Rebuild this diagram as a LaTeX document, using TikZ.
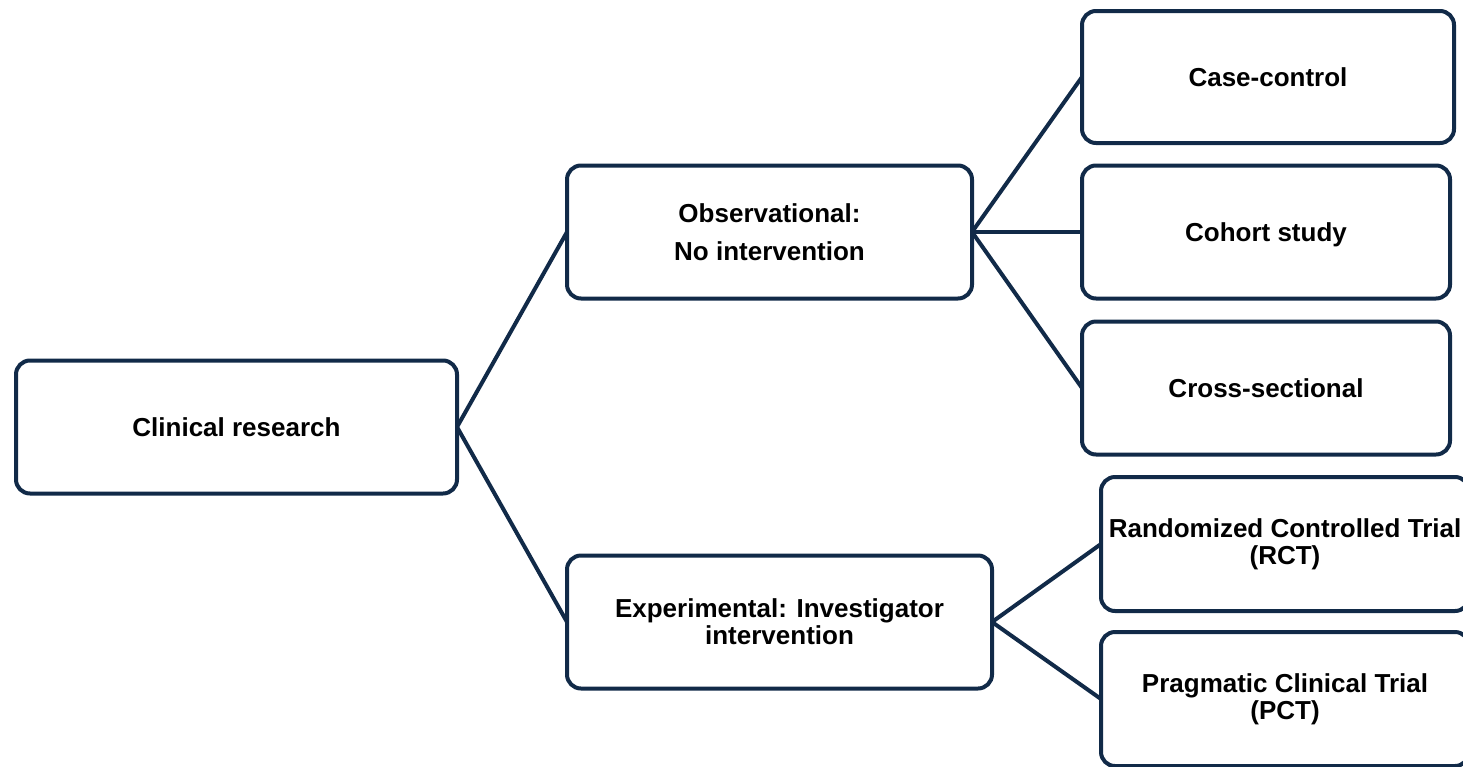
\documentclass[tikz,border=0pt]{standalone}
\usepackage{fontspec}
\setmainfont{Liberation Sans}
\begin{document}
\begin{tikzpicture}[x=1pt,y=-1pt,
  box/.style={draw=navy, line width=4pt, rounded corners=14pt, fill=white,
    inner sep=0pt, outer sep=0pt, align=center,
    font=\fontsize{26}{27}\selectfont\bfseries, text=black},
  link/.style={draw=navy, line width=4pt}]
\definecolor{navy}{HTML}{112A48}
\useasboundingbox (0,0) rectangle (1463,766);
\clip (0,0) rectangle (1463,766);
\node[box, minimum width=441pt, minimum height=133pt] (cr) at (236.5,427) {Clinical research};
\node[box, minimum width=405pt, minimum height=133pt] (obs) at (769.5,232) {Observational:\\[11pt]No intervention};
\node[box, minimum width=425pt, minimum height=133pt] (exp) at (779.5,622) {Experimental: Investigator\\intervention};
\node[box, minimum width=372pt, minimum height=132pt] (cc) at (1268,77) {Case-control};
\node[box, minimum width=368pt, minimum height=133pt, text depth=0pt] (co) at (1266,232) {Cohort study};
\node[box, minimum width=368pt, minimum height=133pt] (cs) at (1266,388) {Cross-sectional};
\node[box, minimum width=368pt, minimum height=134pt] (rct) at (1285,544) {Randomized Controlled Trial\\(RCT)};
\node[box, minimum width=368pt, minimum height=134pt] (pct) at (1285,699) {Pragmatic Clinical Trial\\(PCT)};
\draw[link] (cr.east) -- (obs.west);
\draw[link] (cr.east) -- (exp.west);
\draw[link] (obs.east) -- (cc.west);
\draw[link] (obs.east) -- (co.west);
\draw[link] (obs.east) -- (cs.west);
\draw[link] (exp.east) -- (rct.west);
\draw[link] (exp.east) -- (pct.west);
\end{tikzpicture}
\end{document}
